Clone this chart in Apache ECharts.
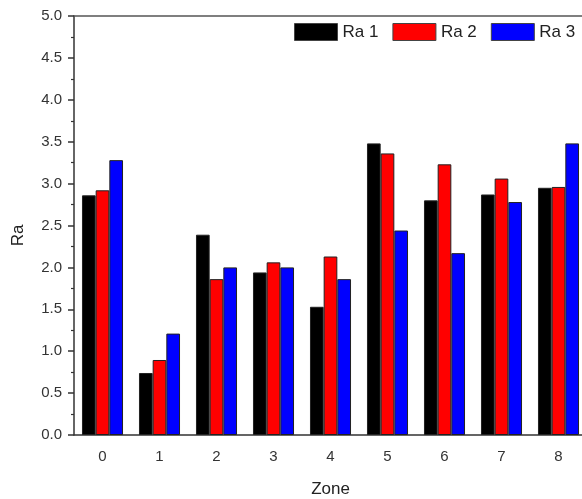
<!DOCTYPE html>
<html>
<head>
<meta charset="utf-8">
<script src="https://cdn.jsdelivr.net/npm/echarts@6/dist/echarts.min.js"></script>
<style>
  html, body { margin: 0; padding: 0; background: #fff; overflow: hidden; }
  /* the original figure is cut off at the right edge, so the chart is a bit wider than the window */
  #chart { width: 600px; height: 499px; }
</style>
</head>
<body>
<div id="chart"></div>
<script>
const zones = ['0', '1', '2', '3', '4', '5', '6', '7', '8']
const ra1 = [2.86, 0.74, 2.39, 1.94, 1.53, 3.48, 2.80, 2.87, 2.95]
const ra2 = [2.92, 0.895, 1.86, 2.06, 2.13, 3.36, 3.23, 3.06, 2.96]
const ra3 = [3.28, 1.21, 2.0, 2.0, 1.86, 2.44, 2.17, 2.78, 3.48]

const chart = echarts.init(document.getElementById('chart'))
const font = 'Liberation Sans, Arial, sans-serif'

const barSeries = (name, data, color) => ({
  name,
  type: 'bar',
  data,
  barGap: '0%',
  barCategoryGap: '28%',
  itemStyle: { color, borderColor: '#222', borderWidth: 1 },
})

const option = {
  animation: false,
  backgroundColor: '#fff',
  textStyle: { fontFamily: font },
  grid: { left: 74, top: 16, width: 513, height: 419, outerBoundsMode: 'none' },
  legend: {
    left: 294,
    top: 23,
    padding: 0,
    itemWidth: 43,
    itemHeight: 17,
    itemGap: 14,
    icon: 'rect',
    textStyle: { fontSize: 17, color: '#222', fontFamily: font },
    itemStyle: { borderColor: '#444', borderWidth: 1 },
    data: ['Ra 1', 'Ra 2', 'Ra 3'],
  },
  xAxis: [
    {
      type: 'category',
      data: zones,
      position: 'bottom',
      name: 'Zone',
      nameLocation: 'middle',
      nameGap: 46,
      nameTextStyle: { fontSize: 17, color: '#222' },
      axisLine: { lineStyle: { color: '#333', width: 1.5 } },
      axisTick: { alignWithLabel: true, length: 6, lineStyle: { color: '#333', width: 1.5 } },
      axisLabel: { fontSize: 15, color: '#333', margin: 14 },
    },
    {
      type: 'category',
      data: zones,
      position: 'bottom',
      axisLine: { show: false },
      axisTick: { length: 3, lineStyle: { color: '#333', width: 1.2 } },
      axisLabel: { show: false },
    },
    {
      type: 'category',
      data: zones,
      position: 'top',
      axisLine: { lineStyle: { color: '#555', width: 1.5 } },
      axisTick: { show: false },
      axisLabel: { show: false },
    },
  ],
  yAxis: {
    type: 'value',
    name: 'Ra',
    nameLocation: 'middle',
    nameGap: 47,
    nameTextStyle: { fontSize: 17, color: '#222', padding: [0, 20, 0, 0] },
    min: 0,
    max: 5,
    interval: 0.5,
    axisLine: { show: true, lineStyle: { color: '#333', width: 1.5 } },
    axisTick: { show: true, length: 6, lineStyle: { color: '#333', width: 1.5 } },
    minorTick: { show: true, splitNumber: 2, length: 3, lineStyle: { color: '#333', width: 1.2 } },
    splitLine: { show: false },
    axisLabel: { fontSize: 15, color: '#333', margin: 12, formatter: v => v.toFixed(1) },
  },
  series: [
    barSeries('Ra 1', ra1, '#000000'),
    barSeries('Ra 2', ra2, '#ff0000'),
    barSeries('Ra 3', ra3, '#0000ff'),
  ],
}

chart.setOption(option)
</script>
</body>
</html>
